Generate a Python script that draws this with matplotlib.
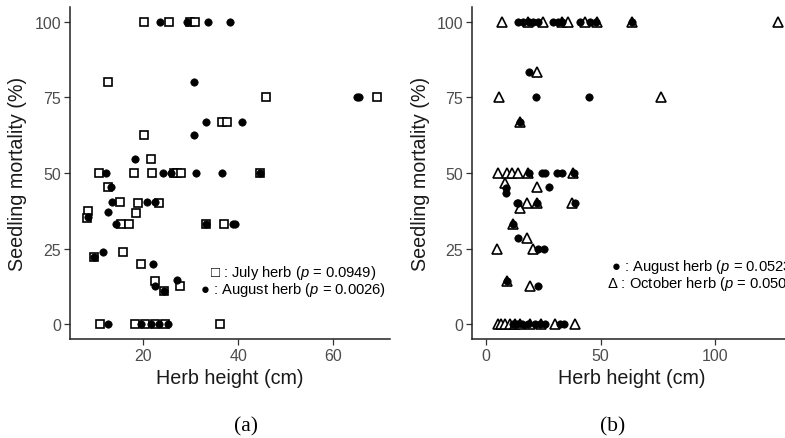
import matplotlib
matplotlib.use("Agg")
import matplotlib.pyplot as plt

plt.rcParams['font.family'] = ['Liberation Sans', 'DejaVu Sans']
plt.rcParams['mathtext.fontset'] = 'custom'
plt.rcParams['mathtext.it'] = 'Liberation Sans:italic'
plt.rcParams['mathtext.rm'] = 'Liberation Sans'

# ---------------- Panel (a) data ----------------
july_x = [20.2, 25.5, 29.8, 30.9, 12.5, 45.9, 69.2, 36.7, 37.7, 20.2, 21.6,
          10.8, 18.0, 21.9, 26.4, 27.2, 28.0, 44.6, 12.5, 15.2, 19.0, 23.4,
          8.3, 18.5, 8.2, 15.3, 17.0, 33.2, 37.1, 15.7, 9.7, 19.5, 22.4,
          27.8, 24.5, 10.9, 18.3, 20.3, 22.6, 24.6, 36.1]
july_y = [100, 100, 100, 100, 80, 75, 75, 66.7, 66.7, 62.5, 54.5,
          50, 50, 50, 50, 50, 50, 50, 45.5, 40.5, 40, 40,
          37.5, 36.7, 35, 33.3, 33.3, 33.3, 33.3, 24, 22.2, 20, 14.3,
          12.5, 11.1, 0, 0, 0, 0, 0, 0]

aug_a_x = [23.6, 29.2, 33.6, 38.3, 30.8, 65.0, 65.5, 33.3, 40.9, 30.8, 18.3,
           12.2, 24.1, 25.8, 31.2, 36.7, 44.6, 13.3, 13.5, 20.8, 22.5, 8.4,
           12.6, 14.3, 33.2, 39.0, 39.4, 11.6, 9.7, 22.0, 27.1, 22.5, 24.5,
           12.7, 19.5, 21.6, 23.3, 25.2]
aug_a_y = [100, 100, 100, 100, 80, 75, 75, 66.7, 66.7, 62.5, 54.5,
           50, 50, 50, 50, 50, 50, 45.5, 40.5, 40.5, 40.5, 35.5,
           37, 33.3, 33.3, 33.3, 33.3, 23.8, 22.2, 20, 14.7, 12.8, 11.1,
           0, 0, 0, 0, 0]

# ---------------- Panel (b) data ----------------
oct_x = [6.9, 18.5, 25.0, 33.0, 35.9, 43.2, 48.3, 63.6, 127.7, 22.1, 5.7,
         76.4, 14.8, 5.4, 9.0, 11.2, 14.1, 18.5, 38.1, 8.3, 22.1, 14.8,
         17.8, 22.1, 37.4, 11.9, 17.8, 4.7, 20.7, 9.0, 19.2, 5.2, 6.5,
         8.3, 10.5, 12.7, 14.8, 19.2, 24.0, 30.1, 38.9]
oct_y = [100, 100, 100, 100, 100, 100, 100, 100, 100, 83.3, 75,
         75, 66.7, 50, 50, 50, 50, 50, 50, 46.7, 45.5, 38.5,
         40, 40, 40, 33.3, 28.6, 25, 25, 14.3, 12.5, 0, 0,
         0, 0, 0, 0, 0, 0, 0, 0]

aug_b_x = [14.1, 16.3, 18.8, 20.7, 22.8, 29.4, 31.6, 33.3, 41.0, 45.4, 47.8,
           63.8, 18.9, 21.7, 45.1, 14.8, 18.7, 24.3, 25.8, 31.0, 33.0, 38.6,
           8.7, 8.5, 27.5, 13.4, 14.1, 22.3, 38.9, 11.9, 14.1, 22.8, 25.3,
           9.0, 22.8, 11.8, 13.5, 15.7, 18.3, 21.4, 23.6, 25.8, 32.3, 34.1]
aug_b_y = [100, 100, 100, 100, 100, 100, 100, 100, 100, 100, 100,
           100, 83.3, 75, 75, 66.7, 50, 50, 50, 50, 50, 50,
           45, 43.5, 45.5, 40, 40, 40, 40, 33.3, 28.6, 25, 25,
           14.3, 12.5, 0, 0, 0, 0, 0, 0, 0, 0, 0]

y_ticks = [0, 25, 50, 75, 100]
xa_ticks = [20, 40, 60]
xb_ticks = [0, 50, 100]

W, H = 785, 439
fig = plt.figure(figsize=(W / 100, H / 100), dpi=100)

def frac_box(left, right, top, bottom):
    return [left / W, 1 - bottom / H, (right - left) / W, (bottom - top) / H]

ax_a = fig.add_axes(frac_box(70, 390, 7.6, 340.4))
ax_b = fig.add_axes(frac_box(472.3, 792, 7.6, 340.4))

tick_col = '#4D4D4D'
for ax in (ax_a, ax_b):
    ax.set_ylim(-5, 105)
    ax.set_yticks(y_ticks)
    for s in ('top', 'right'):
        ax.spines[s].set_visible(False)
    for s in ('left', 'bottom'):
        ax.spines[s].set_color('#222222')
        ax.spines[s].set_linewidth(1.1)
    ax.tick_params(axis='both', direction='out', length=4, width=0.9,
                   color='#333333', labelcolor=tick_col, labelsize=11.5, pad=2.5)
    ax.set_ylabel('Seedling mortality (%)', fontsize=14.2, color='#1a1a1a', labelpad=5)
    ax.set_xlabel('Herb height (cm)', fontsize=14.2, color='#1a1a1a', labelpad=3)

ax_a.set_xlim(4.6, 72.0)
ax_a.set_xticks(xa_ticks)
ax_b.set_xlim(-6, 133.6)
ax_b.set_xticks(xb_ticks)

# Panel (a) marks
ax_a.plot(july_x, july_y, linestyle='none', marker='s', ms=6.2, mfc='white',
          mec='black', mew=1.2, zorder=3, clip_on=False)
ax_a.plot(aug_a_x, aug_a_y, linestyle='none', marker='o', ms=5.3, mfc='black',
          mec='black', mew=0.5, zorder=4, clip_on=False)

# Panel (b) marks
ax_b.plot(oct_x, oct_y, linestyle='none', marker='^', ms=7.0, mfc='white',
          mec='black', mew=1.2, zorder=3, clip_on=False)
ax_b.plot(aug_b_x, aug_b_y, linestyle='none', marker='o', ms=5.3, mfc='black',
          mec='black', mew=0.5, zorder=4, clip_on=False)

# Annotation texts
fig.text(293 / W, 1 - 272.5 / H, '\u25a1 : July herb ($p$ = 0.0949)', ha='center',
         va='center', fontsize=10.6, color='black')
fig.text(293 / W, 1 - 290.5 / H, '\u25cf : August herb ($p$ = 0.0026)', ha='center',
         va='center', fontsize=10.6, color='black')
fig.text(704 / W, 1 - 267 / H, '\u25cf : August herb ($p$ = 0.0523)', ha='center',
         va='center', fontsize=10.6, color='black')
fig.text(704 / W, 1 - 284 / H, '\u0394 : October herb ($p$ = 0.0506)', ha='center',
         va='center', fontsize=10.6, color='black')

# Panel labels
fig.text(246 / W, 1 - 427 / H, '(a)', ha='center', va='center', fontsize=15.5,
         family=['Liberation Serif', 'DejaVu Serif'])
fig.text(613 / W, 1 - 427 / H, '(b)', ha='center', va='center', fontsize=15.5,
         family=['Liberation Serif', 'DejaVu Serif'])

fig.savefig('out.png', dpi=100)
